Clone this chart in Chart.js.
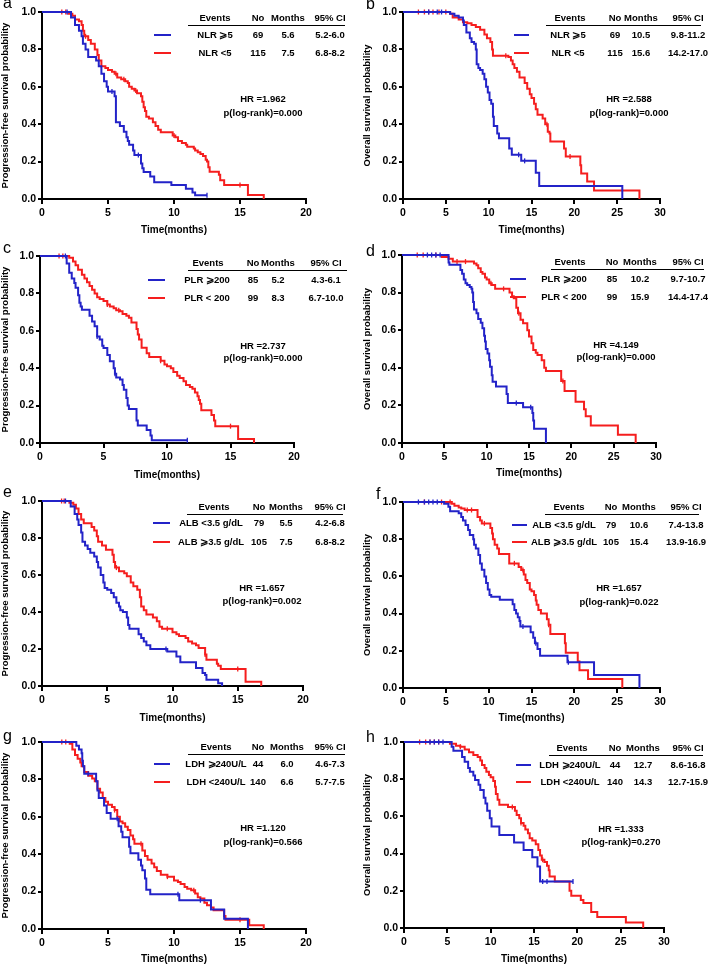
<!DOCTYPE html>
<html>
<head>
<meta charset="utf-8">
<script src="https://cdn.jsdelivr.net/npm/chart.js@4.4.1/dist/chart.umd.min.js"></script>
<style>
  body { margin: 0; background: #fff; }
  #wrap { position: relative; width: 709px; height: 966px; background: #fff; overflow: hidden; }
  #wrap canvas { position: absolute; }
</style>
</head>
<body>
<div id="wrap"></div>
<script>
// Kaplan-Meier curves: [time in months, survival after the step]
const aBlue = [[0,1],[2.0,1],[2.2,0.97],[2.5,0.93],[2.8,0.9],[3.0,0.87],[3.1,0.83],[3.3,0.8],[3.5,0.76],[4.1,0.74],[4.3,0.71],[4.5,0.67],[4.7,0.63],[4.9,0.6],[5.0,0.575],[5.5,0.55],[5.6,0.41],[5.9,0.39],[6.2,0.36],[6.4,0.33],[6.5,0.31],[6.6,0.29],[6.9,0.26],[7.0,0.235],[7.5,0.19],[7.6,0.165],[7.7,0.145],[8.2,0.12],[8.5,0.09],[9.8,0.075],[10.9,0.055],[11.4,0.035],[11.6,0.02],[12.5,0.02]];
const aRed = [[0,1],[2.0,0.99],[2.3,0.98],[2.5,0.96],[2.8,0.95],[3.0,0.93],[3.1,0.9],[3.2,0.87],[3.5,0.85],[3.7,0.83],[4.0,0.8],[4.2,0.77],[4.3,0.74],[4.5,0.71],[4.8,0.7],[5.0,0.69],[5.3,0.68],[5.5,0.67],[5.7,0.65],[6.0,0.64],[6.3,0.63],[6.5,0.62],[6.6,0.6],[6.8,0.59],[7.0,0.58],[7.2,0.565],[7.5,0.55],[7.6,0.52],[7.7,0.49],[7.8,0.47],[7.9,0.44],[8.1,0.43],[8.4,0.41],[8.6,0.39],[8.8,0.37],[9.0,0.357],[9.9,0.34],[10.1,0.33],[10.3,0.31],[10.6,0.3],[10.9,0.29],[11.0,0.28],[11.5,0.27],[11.6,0.26],[11.8,0.25],[12.0,0.24],[12.2,0.23],[12.4,0.21],[12.5,0.2],[12.6,0.17],[12.7,0.146],[13.4,0.13],[13.5,0.1],[13.8,0.075],[15.6,0.021],[16.8,0]];
const aBlueCens = [1.9, 5.3, 7.3, 12.5];
const aRedCens = [1.5, 1.8, 3.3, 5.6, 6.2, 7.1, 10.0, 15.0];
const aRows = [["NLR ⩾5", "69", "5.6", "5.2-6.0"], ["NLR <5", "115", "7.5", "6.8-8.2"]];
const aStats = ["HR =1.962", "p(log-rank)=0.000"];

const bBlue = [[0,1],[5.2,1],[5.5,0.99],[6.0,0.98],[6.5,0.97],[7.0,0.955],[7.1,0.93],[7.4,0.89],[7.8,0.86],[8.0,0.84],[8.3,0.83],[8.5,0.8],[8.6,0.72],[8.8,0.7],[9.0,0.69],[9.3,0.67],[9.5,0.64],[9.7,0.6],[9.9,0.57],[10.1,0.53],[10.3,0.51],[10.5,0.44],[10.6,0.39],[11.0,0.35],[11.2,0.325],[12.4,0.27],[12.7,0.236],[13.8,0.204],[15.5,0.14],[15.9,0.07],[25.6,0]];
const bRed = [[0,1],[5.5,0.99],[5.8,0.97],[6.5,0.96],[7.0,0.945],[7.5,0.94],[8.0,0.93],[8.5,0.92],[9.0,0.905],[9.5,0.88],[9.8,0.86],[10.2,0.84],[10.4,0.8],[10.5,0.766],[12.3,0.76],[12.6,0.74],[12.8,0.72],[13.0,0.7],[13.3,0.68],[13.6,0.65],[14.2,0.62],[14.5,0.59],[14.8,0.56],[15.0,0.54],[15.3,0.51],[15.5,0.48],[15.7,0.45],[16.3,0.43],[16.6,0.4],[16.9,0.36],[17.1,0.35],[17.2,0.307],[18.8,0.27],[19.0,0.227],[20.7,0.18],[20.8,0.137],[21.5,0.093],[22.3,0.045],[27.6,0]];
const bBlueCens = [3.0, 4.0, 4.5, 13.5, 14.2];
const bRedCens = [1.8, 2.5, 3.0, 3.5, 4.2, 5.0, 12.0, 16.8, 19.5];
const bRows = [["NLR ⩾5", "69", "10.5", "9.8-11.2"], ["NLR <5", "115", "15.6", "14.2-17.0"]];
const bStats = ["HR =2.588", "p(log-rank)=0.000"];

const cBlue = [[0,1],[1.9,1],[2.1,0.96],[2.3,0.91],[2.5,0.88],[2.7,0.855],[2.8,0.83],[3.0,0.79],[3.1,0.75],[3.2,0.73],[3.3,0.713],[3.9,0.68],[4.1,0.65],[4.3,0.624],[4.5,0.57],[4.7,0.553],[4.9,0.52],[5.0,0.508],[5.3,0.47],[5.5,0.437],[5.8,0.4],[5.9,0.37],[6.0,0.35],[6.3,0.339],[6.5,0.31],[6.6,0.285],[6.8,0.24],[6.9,0.2],[7.0,0.182],[7.6,0.12],[7.7,0.093],[8.4,0.07],[8.7,0.04],[8.8,0.015],[11.6,0.015]];
const cRed = [[0,1],[2.0,1],[2.3,0.99],[2.6,0.97],[2.8,0.95],[3.0,0.927],[3.3,0.9],[3.5,0.88],[3.7,0.86],[3.9,0.84],[4.1,0.82],[4.3,0.8],[4.5,0.78],[4.7,0.77],[5.0,0.76],[5.3,0.74],[5.5,0.73],[5.8,0.72],[6.0,0.71],[6.3,0.704],[6.5,0.69],[6.8,0.68],[7.0,0.67],[7.2,0.645],[7.6,0.61],[7.7,0.58],[7.8,0.553],[8.0,0.51],[8.4,0.48],[8.6,0.46],[9.5,0.44],[9.8,0.42],[10.0,0.41],[10.3,0.4],[10.5,0.38],[10.8,0.36],[11.0,0.348],[11.3,0.33],[11.5,0.31],[11.8,0.3],[12.0,0.29],[12.2,0.27],[12.4,0.25],[12.5,0.23],[12.6,0.21],[12.7,0.175],[13.5,0.15],[13.7,0.12],[13.8,0.09],[15.6,0.021],[16.85,0]];
const cBlueCens = [2.0, 4.5, 5.9, 11.6];
const cRedCens = [1.5, 1.8, 5.3, 6.2, 9.5, 15.0];
const cRows = [["PLR ⩾200", "85", "5.2", "4.3-6.1"], ["PLR < 200", "99", "8.3", "6.7-10.0"]];
const cStats = ["HR =2.737", "p(log-rank)=0.000"];

const dBlue = [[0,1],[5.3,1],[5.5,0.96],[5.6,0.948],[6.9,0.92],[7.1,0.9],[7.3,0.87],[7.5,0.85],[7.7,0.84],[8.0,0.83],[8.2,0.82],[8.3,0.8],[8.4,0.75],[8.5,0.71],[8.8,0.69],[9.0,0.66],[9.3,0.64],[9.5,0.61],[9.7,0.57],[9.8,0.54],[9.9,0.5],[10.1,0.476],[10.3,0.44],[10.4,0.405],[10.6,0.36],[10.7,0.326],[11.1,0.3],[12.35,0.26],[12.5,0.213],[14.3,0.19],[15.4,0.16],[15.5,0.12],[15.6,0.076],[17.0,0]];
const dRed = [[0,1],[4.7,0.99],[5.5,0.98],[6.0,0.965],[8.5,0.955],[8.8,0.945],[9.0,0.93],[9.3,0.91],[9.5,0.9],[9.8,0.88],[10.0,0.87],[10.3,0.85],[10.6,0.84],[11.0,0.82],[12.7,0.8],[13.0,0.78],[13.2,0.77],[13.5,0.72],[13.7,0.69],[14.0,0.655],[14.3,0.637],[14.8,0.6],[15.0,0.566],[15.3,0.53],[15.5,0.495],[15.8,0.48],[16.0,0.468],[16.5,0.44],[16.8,0.4],[17.0,0.383],[18.8,0.33],[19.2,0.276],[20.5,0.22],[21.5,0.18],[21.7,0.142],[22.3,0.093],[25.5,0.044],[27.6,0]];
const dBlueCens = [3.0, 3.5, 4.0, 4.5, 13.5, 15.2];
const dRedCens = [1.8, 2.5, 4.0, 6.5, 7.5, 10.5, 12.0, 13.8, 19.0];
const dRows = [["PLR ⩾200", "85", "10.2", "9.7-10.7"], ["PLR < 200", "99", "15.9", "14.4-17.4"]];
const dStats = ["HR =4.149", "p(log-rank)=0.000"];

const eBlue = [[0,1],[2.0,1],[2.2,0.97],[2.5,0.93],[2.7,0.9],[2.8,0.87],[3.0,0.83],[3.1,0.78],[3.3,0.76],[3.5,0.74],[3.7,0.72],[4.0,0.7],[4.2,0.67],[4.3,0.64],[4.5,0.6],[4.7,0.56],[4.8,0.53],[5.0,0.52],[5.3,0.503],[5.5,0.48],[5.7,0.45],[5.9,0.43],[6.0,0.41],[6.2,0.4],[6.5,0.37],[6.6,0.33],[6.7,0.31],[7.4,0.28],[7.6,0.26],[7.8,0.24],[8.0,0.22],[8.3,0.2],[9.6,0.187],[10.3,0.16],[10.6,0.128],[11.8,0.097],[12.3,0.07],[12.5,0.06],[12.6,0.034],[13.5,0.015],[13.8,0]];
const eRed = [[0,1],[2.1,0.99],[2.4,0.98],[2.6,0.96],[2.8,0.93],[3.0,0.9],[3.2,0.88],[3.8,0.86],[4.0,0.84],[4.2,0.81],[4.3,0.78],[4.6,0.76],[4.9,0.737],[5.4,0.71],[5.5,0.67],[5.6,0.64],[5.9,0.62],[6.3,0.61],[6.5,0.593],[6.8,0.56],[7.0,0.539],[7.3,0.52],[7.5,0.48],[7.6,0.43],[7.8,0.41],[8.0,0.386],[8.5,0.37],[8.8,0.35],[9.0,0.32],[9.2,0.31],[10.0,0.29],[10.3,0.28],[10.5,0.27],[11.0,0.26],[11.2,0.24],[11.5,0.23],[11.8,0.22],[12.0,0.205],[12.5,0.17],[12.6,0.142],[13.4,0.12],[13.5,0.11],[13.7,0.092],[15.6,0.023],[16.8,0]];
const eBlueCens = [1.8, 9.5];
const eRedCens = [1.5, 1.7, 5.7, 9.6, 12.5, 15.0];
const eRows = [["ALB <3.5 g/dL", "79", "5.5", "4.2-6.8"], ["ALB ⩾3.5 g/dL", "105", "7.5", "6.8-8.2"]];
const eStats = ["HR =1.657", "p(log-rank)=0.002"];

const fBlue = [[0,1],[4.5,1],[4.8,0.99],[5.3,0.975],[5.5,0.95],[6.5,0.94],[6.8,0.92],[7.0,0.9],[7.3,0.877],[7.6,0.85],[7.8,0.823],[8.2,0.8],[8.3,0.77],[8.5,0.75],[8.8,0.715],[9.0,0.67],[9.2,0.636],[9.5,0.6],[9.7,0.564],[9.9,0.53],[10.1,0.5],[10.3,0.49],[11.3,0.475],[12.8,0.45],[13.0,0.42],[13.2,0.4],[13.4,0.38],[13.6,0.36],[13.7,0.33],[14.9,0.3],[15.2,0.27],[15.4,0.24],[15.7,0.21],[16.0,0.173],[19.2,0.138],[22.3,0.07],[27.6,0]];
const fRed = [[0,1],[5.5,1],[5.7,0.99],[6.0,0.98],[6.5,0.97],[6.8,0.965],[7.2,0.957],[8.7,0.92],[9.0,0.9],[9.2,0.885],[10.2,0.86],[10.4,0.83],[10.5,0.8],[10.7,0.77],[11.0,0.75],[11.2,0.72],[12.4,0.67],[13.5,0.65],[13.8,0.635],[14.1,0.61],[14.3,0.58],[14.5,0.564],[14.8,0.53],[15.0,0.52],[15.3,0.5],[15.5,0.47],[15.6,0.447],[15.8,0.42],[16.1,0.4],[16.8,0.37],[17.0,0.34],[17.2,0.29],[18.9,0.24],[19.0,0.19],[20.4,0.143],[20.6,0.095],[21.6,0.048],[25.6,0]];
const fBlueCens = [1.8, 2.5, 3.0, 3.5, 4.0, 14.0, 15.5, 19.3];
const fRedCens = [2.5, 4.5, 5.5, 7.5, 8.0, 9.5, 13.0, 14.0, 17.0];
const fRows = [["ALB <3.5 g/dL", "79", "10.6", "7.4-13.8"], ["ALB ⩾3.5 g/dL", "105", "15.4", "13.9-16.9"]];
const fStats = ["HR =1.657", "p(log-rank)=0.022"];

const gBlue = [[0,1],[2.6,0.98],[2.8,0.96],[3.0,0.94],[3.05,0.9],[3.1,0.87],[3.2,0.83],[4.1,0.79],[4.2,0.74],[4.3,0.7],[4.7,0.66],[4.9,0.62],[5.2,0.59],[5.8,0.55],[6.0,0.52],[6.1,0.49],[6.6,0.44],[6.7,0.405],[7.3,0.37],[7.5,0.34],[7.6,0.314],[7.8,0.27],[7.9,0.21],[8.2,0.186],[10.4,0.154],[12.8,0.104],[13.8,0.055],[15.6,0]];
const gRed = [[0,1],[2.1,0.99],[2.3,0.96],[2.5,0.93],[2.7,0.91],[2.9,0.89],[3.0,0.87],[3.2,0.84],[3.5,0.82],[3.8,0.805],[4.0,0.79],[4.2,0.75],[4.4,0.73],[4.6,0.7],[4.8,0.68],[5.0,0.665],[5.3,0.653],[5.5,0.636],[5.7,0.6],[5.9,0.575],[6.1,0.565],[6.3,0.547],[6.5,0.53],[6.7,0.5],[6.9,0.48],[7.0,0.456],[7.6,0.42],[7.8,0.39],[8.0,0.37],[8.3,0.35],[8.5,0.33],[8.7,0.31],[9.0,0.29],[9.5,0.28],[10.0,0.26],[10.3,0.252],[10.5,0.24],[10.8,0.225],[11.0,0.215],[11.3,0.207],[11.6,0.19],[11.8,0.17],[12.0,0.163],[12.3,0.14],[12.5,0.127],[12.8,0.115],[13.0,0.1],[13.8,0.07],[13.9,0.05],[15.7,0.02],[16.8,0]];
const gBlueCens = [3.5, 5.7, 10.3, 12.0];
const gRedCens = [1.5, 1.8, 5.5, 7.5, 9.5, 11.5, 15.0];
const gRows = [["LDH ⩾240U/L", "44", "6.0", "4.6-7.3"], ["LDH <240U/L", "140", "6.6", "5.7-7.5"]];
const gStats = ["HR =1.120", "p(log-rank)=0.566"];

const hBlue = [[0,1],[5.0,1],[5.5,0.975],[5.7,0.953],[6.7,0.92],[7.0,0.894],[7.4,0.86],[7.6,0.84],[8.0,0.82],[8.2,0.796],[8.6,0.77],[8.8,0.742],[9.2,0.7],[9.4,0.67],[9.6,0.63],[9.9,0.59],[10.1,0.546],[11.0,0.5],[12.7,0.46],[13.8,0.42],[14.8,0.38],[15.4,0.33],[15.7,0.25],[19.5,0.25]];
const hRed = [[0,1],[5.3,0.99],[6.0,0.98],[6.5,0.975],[7.0,0.96],[7.5,0.945],[8.0,0.93],[8.5,0.92],[8.8,0.9],[9.0,0.877],[9.3,0.86],[9.5,0.84],[9.8,0.823],[10.0,0.81],[10.3,0.79],[10.5,0.76],[10.6,0.72],[10.8,0.69],[11.0,0.662],[12.0,0.65],[12.8,0.63],[13.0,0.608],[13.3,0.59],[13.5,0.564],[13.8,0.55],[14.0,0.53],[14.3,0.51],[14.5,0.483],[14.8,0.47],[15.2,0.45],[15.5,0.42],[15.7,0.39],[15.9,0.367],[16.2,0.355],[16.5,0.335],[16.7,0.31],[16.8,0.277],[17.4,0.25],[19.1,0.2],[19.3,0.173],[20.4,0.15],[20.7,0.134],[21.6,0.086],[22.3,0.059],[25.6,0.03],[27.6,0]];
const hBlueCens = [3.0, 3.5, 4.0, 4.5, 16.0, 16.5, 19.5];
const hRedCens = [1.8, 2.5, 3.0, 3.5, 4.0, 6.5, 12.5, 13.5, 16.0];
const hRows = [["LDH ⩾240U/L", "44", "12.7", "8.6-16.8"], ["LDH <240U/L", "140", "14.3", "12.7-15.9"]];
const hStats = ["HR =1.333", "p(log-rank)=0.270"];

const header = ["Events", "No", "Months", "95% CI"];
const pfsTitle = "Progression-free survival probability";
const osTitle = "Overall survival probability";

const BLUE = "#2323c8";
const RED = "#f51e1e";
const FONT = '"Liberation Sans", Arial, sans-serif';

// layout of each panel (canvas position, plot area, table and text positions)
const panels = [
  {letter: "a", x: 0, y: 0, w: 354, h: 246, xMax: 20, area: [42, 306, 12, 199], xTitleY: 230, yTitle: pfsTitle, yTitleX: 5,
   blue: aBlue, red: aRed, blueCens: aBlueCens, redCens: aRedCens, rows: aRows, stats: aStats, labelX: 215,
   cols: [215, 258, 288, 330], line: [188, 345], swatch: [154, 171], rowY: [18, 35, 53], statX: 263, statY: [99, 113], letterPos: [3, 4]},
  {letter: "b", x: 354, y: 0, w: 355, h: 246, xMax: 30, area: [49, 306, 12, 199], xTitleY: 230, yTitle: osTitle, yTitleX: 13,
   blue: bBlue, red: bRed, blueCens: bBlueCens, redCens: bRedCens, rows: bRows, stats: bStats, labelX: 214,
   cols: [216, 261, 287, 334], line: [192, 347], swatch: [160, 175], rowY: [18, 35, 53], statX: 275, statY: [99, 113], letterPos: [12, 5]},
  {letter: "c", x: 0, y: 240, w: 354, h: 246, xMax: 20, area: [40, 294, 16, 203], xTitleY: 235, yTitle: pfsTitle, yTitleX: 5,
   blue: cBlue, red: cRed, blueCens: cBlueCens, redCens: cRedCens, rows: cRows, stats: cStats, labelX: 207,
   cols: [208, 253, 278, 326], line: [188, 347], swatch: [148, 165], rowY: [23, 40, 58], statX: 263, statY: [106, 118], letterPos: [3, 9]},
  {letter: "d", x: 354, y: 240, w: 355, h: 246, xMax: 30, area: [48, 302, 15, 203], xTitleY: 233, yTitle: osTitle, yTitleX: 13,
   blue: dBlue, red: dRed, blueCens: dBlueCens, redCens: dRedCens, rows: dRows, stats: dStats, labelX: 210,
   cols: [216, 258, 286, 334], line: [197, 350], swatch: [156, 172], rowY: [22, 39, 57], statX: 262, statY: [105, 117], letterPos: [12, 12]},
  {letter: "e", x: 0, y: 480, w: 354, h: 246, xMax: 20, area: [42, 303, 21, 206], xTitleY: 238, yTitle: pfsTitle, yTitleX: 5,
   blue: eBlue, red: eRed, blueCens: eBlueCens, redCens: eRedCens, rows: eRows, stats: eStats, labelX: 211,
   cols: [214, 259, 286, 330], line: [187, 343], swatch: [153, 170], rowY: [27, 43, 62], statX: 262, statY: [108, 121], letterPos: [3, 13]},
  {letter: "f", x: 354, y: 480, w: 355, h: 246, xMax: 30, area: [49, 306, 22, 208], xTitleY: 238, yTitle: osTitle, yTitleX: 13,
   blue: fBlue, red: fRed, blueCens: fBlueCens, redCens: fRedCens, rows: fRows, stats: fStats, labelX: 210,
   cols: [215, 257, 285, 332], line: [191, 345], swatch: [158, 173], rowY: [27, 45, 62], statX: 265, statY: [108, 122], letterPos: [22, 15]},
  {letter: "g", x: 0, y: 720, w: 354, h: 246, xMax: 20, area: [42, 306, 22, 209], xTitleY: 239, yTitle: pfsTitle, yTitleX: 5,
   blue: gBlue, red: gRed, blueCens: gBlueCens, redCens: gRedCens, rows: gRows, stats: gStats, labelX: 216,
   cols: [216, 258, 287, 330], line: [188, 345], swatch: [154, 170], rowY: [27, 44, 62], statX: 263, statY: [108, 122], letterPos: [3, 17]},
  {letter: "h", x: 354, y: 720, w: 355, h: 246, xMax: 30, area: [50, 310, 22, 208], xTitleY: 239, yTitle: osTitle, yTitleX: 13,
   blue: hBlue, red: hRed, blueCens: hBlueCens, redCens: hRedCens, rows: hRows, stats: hStats, labelX: 216,
   cols: [218, 261, 289, 334], line: [195, 349], swatch: [162, 177], rowY: [28, 45, 62], statX: 267, statY: [109, 122], letterPos: [12, 18]}
];

function survAt(curve, t) {
  let s = 1;
  for (let i = 0; i < curve.length; i++) {
    if (curve[i][0] <= t) s = curve[i][1];
  }
  return s;
}

function curveSet(curve, color) {
  return {
    data: curve.map(p => ({x: p[0], y: p[1]})),
    borderColor: color,
    borderWidth: 2,
    stepped: true,
    pointRadius: 0,
    fill: false,
    clip: 4
  };
}

function censSet(curve, cens, color) {
  return {
    data: cens.map(t => ({x: t, y: survAt(curve, t)})),
    showLine: false,
    borderColor: color,
    backgroundColor: color,
    pointStyle: "line",
    rotation: 90,
    pointRadius: 2.5,
    pointBorderWidth: 1.3,
    clip: 6
  };
}

function tablePlugin(p) {
  return {
    id: "table" + p.letter,
    afterDraw(chart) {
      const ctx = chart.ctx;
      ctx.save();
      // panel letter
      ctx.fillStyle = "#000";
      ctx.font = "16px " + FONT;
      ctx.textAlign = "left";
      ctx.textBaseline = "middle";
      ctx.fillText(p.letter, p.letterPos[0], p.letterPos[1]);

      ctx.font = "bold 9.5px " + FONT;
      ctx.textAlign = "center";
      for (let i = 0; i < header.length; i++) {
        ctx.fillText(header[i], p.cols[i], p.rowY[0]);
      }
      ctx.strokeStyle = "#000";
      ctx.lineWidth = 1.2;
      ctx.beginPath();
      ctx.moveTo(p.line[0], p.rowY[0] + 7.5);
      ctx.lineTo(p.line[1], p.rowY[0] + 7.5);
      ctx.stroke();

      const colors = [BLUE, RED];
      for (let r = 0; r < 2; r++) {
        const y = p.rowY[r + 1];
        ctx.strokeStyle = colors[r];
        ctx.lineWidth = 2;
        ctx.beginPath();
        ctx.moveTo(p.swatch[0], y);
        ctx.lineTo(p.swatch[1], y);
        ctx.stroke();
        ctx.fillText(p.rows[r][0], p.labelX, y);
        for (let c = 1; c < 4; c++) {
          ctx.fillText(p.rows[r][c], p.cols[c], y);
        }
      }
      ctx.fillText(p.stats[0], p.statX, p.statY[0]);
      ctx.fillText(p.stats[1], p.statX, p.statY[1]);
      ctx.restore();
    }
  };
}

function drawPanel(p) {
  const cv = document.createElement("canvas");
  cv.width = p.w;
  cv.height = p.h;
  cv.style.left = p.x + "px";
  cv.style.top = p.y + "px";
  document.getElementById("wrap").appendChild(cv);
  const left = p.area[0], right = p.area[1], top = p.area[2], bottom = p.area[3];

  const config = {
    type: "line",
    data: {
      datasets: [
        curveSet(p.blue, BLUE),
        censSet(p.blue, p.blueCens, BLUE),
        curveSet(p.red, RED),
        censSet(p.red, p.redCens, RED)
      ]
    },
    options: {
      responsive: false,
      animation: false,
      layout: {padding: {left: 0, top: top, right: p.w - right, bottom: 0}},
      plugins: {legend: {display: false}, tooltip: {enabled: false}},
      scales: {
        x: {
          type: "linear",
          min: 0,
          max: p.xMax,
          afterFit: s => { s.height = p.h - bottom; },
          ticks: {stepSize: 5, padding: 3, maxRotation: 0, color: "#000", font: {size: 10.5, weight: "bold"}},
          grid: {drawOnChartArea: false, tickLength: 5, color: "#000", lineWidth: 2},
          border: {color: "#000", width: 2},
          title: {display: true, text: "Time(months)", color: "#000", font: {size: 10, weight: "bold"},
                  padding: {top: 0, bottom: p.h - p.xTitleY - 6}}
        },
        y: {
          min: 0,
          max: 1,
          afterFit: s => { s.width = left; },
          ticks: {stepSize: 0.2, padding: 2, color: "#000", font: {size: 10.5, weight: "bold"},
                  callback: v => v.toFixed(1)},
          grid: {drawOnChartArea: false, tickLength: 4, color: "#000", lineWidth: 2},
          border: {color: "#000", width: 2},
          title: {display: true, text: p.yTitle, color: "#000", font: {size: 9.5, weight: "bold"},
                  padding: {top: p.yTitleX - 5.7, bottom: 0}}
        }
      }
    },
    plugins: [tablePlugin(p)]
  };
  new Chart(cv, config);
}

Chart.defaults.font.family = FONT;
Chart.defaults.color = "#000";
panels.forEach(drawPanel);
</script>
</body>
</html>
